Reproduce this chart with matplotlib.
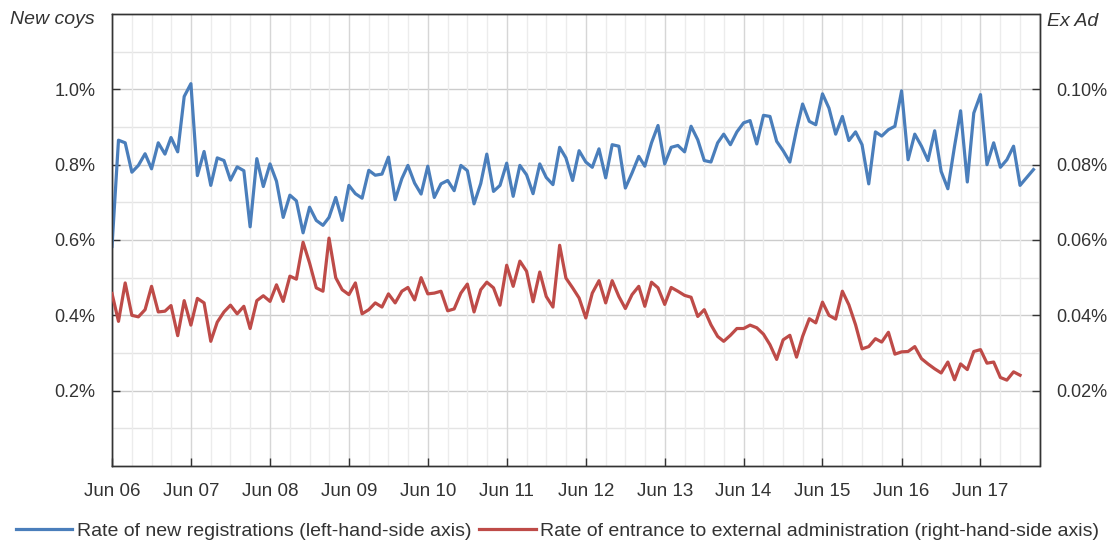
import numpy as np
import pandas as pd
import matplotlib
matplotlib.use('Agg')
import matplotlib.pyplot as plt
import matplotlib.dates as mdates
from matplotlib.ticker import FixedLocator

plt.rcParams['font.family'] = ['Liberation Sans', 'DejaVu Sans']

# --- monthly data, starting Jun 2006 ---
new_regs = [0.583, 0.865, 0.858, 0.780, 0.798, 0.829, 0.789, 0.858, 0.828, 0.872,
            0.834, 0.981, 1.015, 0.771, 0.835, 0.745, 0.818, 0.811, 0.759, 0.794,
            0.784, 0.635, 0.816, 0.742, 0.802, 0.756, 0.660, 0.719, 0.704, 0.619,
            0.687, 0.652, 0.639, 0.660, 0.713, 0.652, 0.745, 0.723, 0.711, 0.785,
            0.772, 0.775, 0.820, 0.707, 0.763, 0.798, 0.751, 0.722, 0.796, 0.713,
            0.749, 0.758, 0.731, 0.798, 0.784, 0.696, 0.750, 0.828, 0.729, 0.745,
            0.804, 0.716, 0.798, 0.773, 0.723, 0.802, 0.766, 0.747, 0.846, 0.818,
            0.758, 0.837, 0.807, 0.793, 0.842, 0.765, 0.853, 0.849, 0.738, 0.778,
            0.822, 0.796, 0.858, 0.904, 0.802, 0.846, 0.851, 0.834, 0.902, 0.866,
            0.811, 0.807, 0.858, 0.881, 0.853, 0.887, 0.911, 0.917, 0.855, 0.931,
            0.928, 0.862, 0.837, 0.807, 0.893, 0.961, 0.915, 0.906, 0.988, 0.950,
            0.881, 0.928, 0.864, 0.887, 0.853, 0.749, 0.887, 0.876, 0.893, 0.902,
            0.996, 0.813, 0.881, 0.849, 0.811, 0.890, 0.782, 0.736, 0.849, 0.943,
            0.754, 0.937, 0.986, 0.800, 0.858, 0.793, 0.813, 0.849, 0.745, 0.766,
            0.787]

ext_admin = [0.0458, 0.0384, 0.0486, 0.0400, 0.0396, 0.0415, 0.0477, 0.0409, 0.0411, 0.0426,
             0.0346, 0.0439, 0.0374, 0.0445, 0.0433, 0.0331, 0.0382, 0.0409, 0.0427, 0.0404,
             0.0424, 0.0365, 0.0439, 0.0452, 0.0437, 0.0481, 0.0437, 0.0504, 0.0496, 0.0594,
             0.0539, 0.0473, 0.0464, 0.0605, 0.0500, 0.0468, 0.0455, 0.0486, 0.0404, 0.0415,
             0.0433, 0.0422, 0.0457, 0.0433, 0.0464, 0.0474, 0.0441, 0.0500, 0.0457, 0.0459,
             0.0464, 0.0412, 0.0417, 0.0459, 0.0483, 0.0409, 0.0468, 0.0488, 0.0473, 0.0427,
             0.0533, 0.0477, 0.0544, 0.0517, 0.0436, 0.0515, 0.0450, 0.0422, 0.0586, 0.0499,
             0.0473, 0.0446, 0.0393, 0.0459, 0.0492, 0.0433, 0.0492, 0.0450, 0.0418, 0.0455,
             0.0477, 0.0424, 0.0488, 0.0473, 0.0429, 0.0474, 0.0464, 0.0453, 0.0448, 0.0397,
             0.0415, 0.0375, 0.0344, 0.0331, 0.0347, 0.0365, 0.0365, 0.0374, 0.0367, 0.0350,
             0.0322, 0.0283, 0.0335, 0.0347, 0.0289, 0.0344, 0.0391, 0.0380, 0.0435, 0.0400,
             0.0390, 0.0464, 0.0428, 0.0375, 0.0311, 0.0317, 0.0338, 0.0329, 0.0355, 0.0297,
             0.0303, 0.0304, 0.0317, 0.0285, 0.0271, 0.0258, 0.0247, 0.0276, 0.0229, 0.0271,
             0.0256, 0.0304, 0.0309, 0.0273, 0.0276, 0.0235, 0.0228, 0.0250, 0.0241]

months_regs = pd.date_range('2006-06-01', periods=len(new_regs), freq='MS')
months_admin = pd.date_range('2006-06-01', periods=len(ext_admin), freq='MS')

left_ticks = [0.2, 0.4, 0.6, 0.8, 1.0]
right_ticks = [0.02, 0.04, 0.06, 0.08, 0.10]

blue = '#4A7EBB'
red = '#BE4B48'
txt = '#333333'

fig = plt.figure(figsize=(11.15, 5.46), dpi=100)
ax = fig.add_axes([112 / 1115, 1 - 466 / 546, (1039.5 - 112) / 1115, (466 - 14) / 546])
ax2 = ax.twinx()

# grid: 0.1% horizontal steps, quarterly vertical steps (June darker)
ax.set_ylim(0, 1.2)
ax.set_xlim(pd.Timestamp('2006-06-01'), pd.Timestamp('2018-03-01'))
for y in np.arange(0.1, 1.2, 0.1):
    major = round(y * 10) % 2 == 0
    ax.axhline(y, color='#cccccc' if major else '#e4e4e4', lw=1.0, zorder=0)
for d in pd.date_range('2006-06-01', '2018-03-01', freq='3MS'):
    ax.axvline(d, color='#d6d6d6' if d.month == 6 else '#ececec', lw=1.0, zorder=0)

ax.plot(months_regs, new_regs, color=blue, lw=2.3, zorder=3,
        label='Rate of new registrations (left-hand-side axis)')
ax2.plot(months_admin, ext_admin, color=red, lw=2.3, zorder=3,
         label='Rate of entrance to external administration (right-hand-side axis)')
ax2.set_ylim(0, 0.12)

ax.yaxis.set_major_locator(FixedLocator(left_ticks))
ax.set_yticklabels([f'{v:.1f}%' for v in left_ticks])
ax2.yaxis.set_major_locator(FixedLocator(right_ticks))
ax2.set_yticklabels([f'{v:.2f}%' for v in right_ticks])

ax.xaxis.set_major_locator(mdates.MonthLocator(bymonth=6))
ax.xaxis.set_major_formatter(mdates.DateFormatter('Jun %y'))

ax.tick_params(axis='y', direction='in', length=6, width=1, pad=12,
               labelsize=13, labelcolor=txt, color=txt)
ax2.tick_params(axis='y', direction='in', length=6, width=1, pad=12,
                labelsize=13, labelcolor=txt, color=txt)
ax.tick_params(axis='x', direction='in', length=6, width=1, pad=12,
               labelsize=13.5, labelcolor=txt, color=txt)
ax.tick_params(axis='x', which='minor', length=0)

for a in (ax, ax2):
    for s in a.spines.values():
        s.set_color('#333333')
        s.set_linewidth(1.0)

fig.text(10 / 1115, 1 - 20 / 546, 'New coys', style='italic', fontsize=14,
         color=txt, ha='left', va='center')
fig.text(1047 / 1115, 1 - 21 / 546, 'Ex Ad', style='italic', fontsize=14,
         color=txt, ha='left', va='center')

h1, l1 = ax.get_legend_handles_labels()
h2, l2 = ax2.get_legend_handles_labels()
fig.legend(h1 + h2, l1 + l2, loc='center', bbox_to_anchor=(0.5, 1 - 531 / 546),
           ncol=2, frameon=False, fontsize=14, handlelength=2.9, handletextpad=0.25,
           columnspacing=0.4, labelcolor=txt, borderaxespad=0)

fig.savefig('out.png', dpi=100)
